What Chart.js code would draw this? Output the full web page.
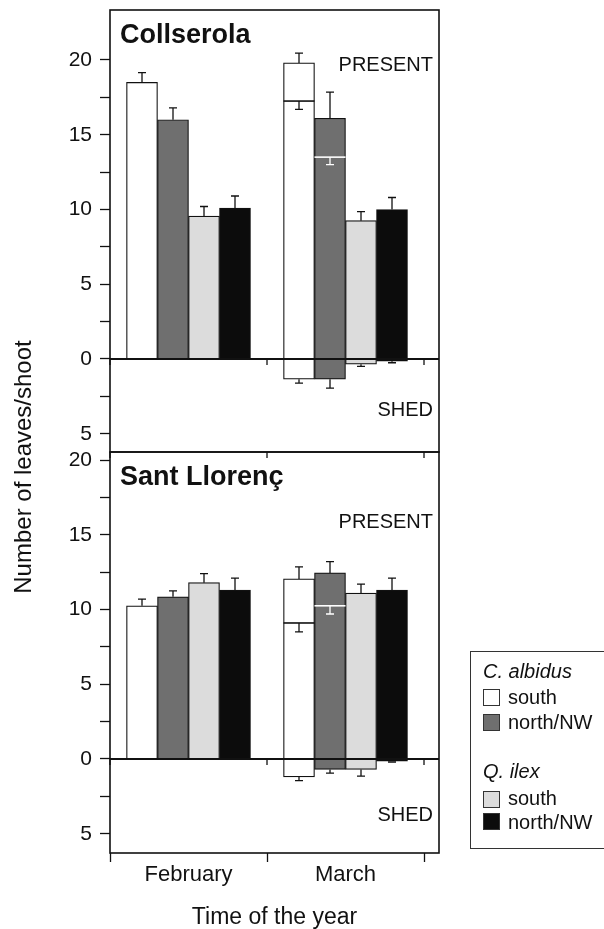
<!DOCTYPE html>
<html>
<head>
<meta charset="utf-8">
<script src="https://cdn.jsdelivr.net/npm/chart.js@4.4.0/dist/chart.umd.min.js"></script>
<style>
    body { margin: 0; background: #fff; width: 604px; height: 929px; position: relative; overflow: hidden;
           font-family: 'Liberation Sans', Arial, Helvetica, sans-serif; color: #111; }
    canvas { position: absolute; left: 0; top: 0; }
    #legend { position: absolute; left: 470px; top: 651px; width: 150px; height: 196px;
              border: 1.5px solid #333; border-right: none; font-size: 20px; line-height: 20px; }
    #legend div { position: absolute; white-space: nowrap; }
    #legend .sw { width: 15px; height: 15px; border: 1px solid #333; left: 12px; }
</style>
</head>
<body>
<canvas id="topPanel" width="604" height="929"></canvas>
<canvas id="bottomPanel" width="604" height="929"></canvas>

<div id="legend">
    <div style="left:12px;top:9px"><i>C. albidus</i></div>
    <div class="sw" style="top:37px;background:#ffffff"></div>
    <div style="left:37px;top:35px">south</div>
    <div class="sw" style="top:62px;background:#6f6f6f"></div>
    <div style="left:37px;top:60px">north/NW</div>
    <div style="left:12px;top:109px"><i>Q. ilex</i></div>
    <div class="sw" style="top:139px;background:#dcdcdc"></div>
    <div style="left:37px;top:136px">south</div>
    <div class="sw" style="top:161px;background:#0c0c0c"></div>
    <div style="left:37px;top:160px">north/NW</div>
</div>

<script>
const months = ['February', 'March'];
const seriesNames = ['C. albidus south', 'C. albidus north/NW', 'Q. ilex south', 'Q. ilex north/NW'];
const seriesColors = ['#ffffff', '#6f6f6f', '#dcdcdc', '#0c0c0c'];
const oldLineColors = ['#111111', '#ffffff', null, null];

const yTicks = [-5, -2.5, 0, 2.5, 5, 7.5, 10, 12.5, 15, 17.5, 20];
const xTicks = [-0.5, 0, 0.5, 1, 1.5];

// Collserola: leaves present (per series, Feb / March), error bar ends,
// leaves already present before (line inside the March bar), leaves shed
const colPresent    = [[18.5, 19.8], [16.0, 16.1], [9.55, 9.25], [10.1, 10.0]];
const colPresentErr = [[19.15, 20.45], [16.8, 17.85], [10.2, 9.85], [10.9, 10.8]];
const colOld        = [[null, 17.25], [null, 13.5], [null, null], [null, null]];
const colOldErr     = [[null, 16.7], [null, 13.0], [null, null], [null, null]];
const colShed       = [[null, -1.35], [null, -1.35], [null, -0.35], [null, -0.15]];
const colShedErr    = [[null, -1.62], [null, -1.95], [null, -0.5], [null, -0.25]];

// Sant Llorenç
const sllPresent    = [[10.25, 12.05], [10.85, 12.45], [11.8, 11.1], [11.3, 11.3]];
const sllPresentErr = [[10.7, 12.85], [11.25, 13.2], [12.4, 11.7], [12.1, 12.1]];
const sllOld        = [[null, 9.1], [null, 10.25], [null, null], [null, null]];
const sllOldErr     = [[null, 8.5], [null, 9.7], [null, null], [null, null]];
const sllShed       = [[null, -1.2], [null, -0.7], [null, -0.7], [null, -0.15]];
const sllShedErr    = [[null, -1.45], [null, -0.95], [null, -1.15], [null, -0.2]];

const FONT = "'Liberation Sans', Arial, Helvetica, sans-serif";
Chart.defaults.font.family = FONT;
Chart.defaults.color = '#111';

function buildDatasets(present, presentErr, old, oldErr, shed, shedErr) {
    const sets = [];
    seriesNames.forEach((name, s) => {
        sets.push({
            label: name,
            data: months.map((m, i) => ({ x: i, y: present[s][i] })),
            backgroundColor: seriesColors[s],
            stack: 's' + s,
            errTo: presentErr[s],
            oldLevel: old[s],
            oldErr: oldErr[s],
            oldColor: oldLineColors[s]
        });
        sets.push({
            label: name + ' shed',
            data: months.map((m, i) => ({ x: i, y: shed[s][i] })),
            backgroundColor: seriesColors[s],
            stack: 's' + s,
            errTo: shedErr[s]
        });
    });
    return sets;
}

function capLine(ctx, x, y0, y1) {
    ctx.beginPath();
    ctx.moveTo(x, y0);
    ctx.lineTo(x, y1);
    ctx.moveTo(x - 4, y1);
    ctx.lineTo(x + 4, y1);
    ctx.stroke();
}

function noPadding(s) {
    s.paddingTop = 0;
    s.paddingBottom = 0;
    s.paddingLeft = 0;
    s.paddingRight = 0;
}

const panelDecor = {
    id: 'panelDecor',
    afterDatasetsDraw(chart, args, opts) {
        const { ctx, chartArea } = chart;
        const yScale = chart.scales.y;
        const xScale = chart.scales.x;

        // error bars and the inner "before" lines
        chart.data.datasets.forEach((ds, di) => {
            const meta = chart.getDatasetMeta(di);
            meta.data.forEach((bar, i) => {
                if (ds.data[i].y == null) return;
                ctx.save();
                ctx.strokeStyle = '#111';
                ctx.lineWidth = 1.3;
                if (ds.errTo && ds.errTo[i] != null) {
                    capLine(ctx, bar.x, bar.y, yScale.getPixelForValue(ds.errTo[i]));
                }
                if (ds.oldLevel && ds.oldLevel[i] != null) {
                    const yy = yScale.getPixelForValue(ds.oldLevel[i]);
                    ctx.strokeStyle = ds.oldColor;
                    ctx.lineWidth = 1.6;
                    ctx.beginPath();
                    ctx.moveTo(bar.x - bar.width / 2, yy);
                    ctx.lineTo(bar.x + bar.width / 2, yy);
                    ctx.stroke();
                    ctx.lineWidth = 1.3;
                    capLine(ctx, bar.x, yy, yScale.getPixelForValue(ds.oldErr[i]));
                }
                ctx.restore();
            });
        });

        ctx.save();
        ctx.strokeStyle = '#111';

        // zero line
        const y0 = yScale.getPixelForValue(0);
        ctx.lineWidth = 2;
        ctx.beginPath();
        ctx.moveTo(chartArea.left, y0);
        ctx.lineTo(chartArea.right, y0);
        ctx.stroke();

        // frame
        ctx.lineWidth = 1.6;
        ctx.strokeRect(chartArea.left, chartArea.top, chartArea.right - chartArea.left, chartArea.bottom - chartArea.top);

        // category boundary ticks on the zero line (and top edge)
        ctx.lineWidth = 1.3;
        xTicks.filter(v => !Number.isInteger(v)).forEach(v => {
            const px = xScale.getPixelForValue(v);
            ctx.beginPath();
            ctx.moveTo(px, y0);
            ctx.lineTo(px, y0 + 6);
            if (opts.topTicks) {
                ctx.moveTo(px, chartArea.top);
                ctx.lineTo(px, chartArea.top + 6);
            }
            ctx.stroke();
        });

        // texts
        ctx.fillStyle = '#111';
        ctx.textBaseline = 'alphabetic';
        ctx.textAlign = 'left';
        ctx.font = `bold 27px ${FONT}`;
        ctx.fillText(opts.title, chartArea.left + 10, chartArea.top + 33);

        ctx.textAlign = 'right';
        ctx.font = `20px ${FONT}`;
        ctx.fillText('PRESENT', chartArea.right - 6, chartArea.top + opts.presentOffset);
        ctx.fillText('SHED', chartArea.right - 6, chartArea.bottom - opts.shedOffset);

        if (opts.yTitle) {
            ctx.translate(24, 467);
            ctx.rotate(-Math.PI / 2);
            ctx.textAlign = 'center';
            ctx.textBaseline = 'middle';
            ctx.font = `24px ${FONT}`;
            ctx.fillText(opts.yTitle, 0, 0);
        }
        ctx.restore();
    }
};

function yAxis(min, max) {
    return {
        type: 'linear',
        min,
        max,
        stacked: false,
        afterBuildTicks: s => { s.ticks = yTicks.map(v => ({ value: v })); },
        afterFit: s => { s.width = 110; noPadding(s); },
        border: { display: false },
        grid: { drawOnChartArea: false, drawTicks: true, tickLength: 10, tickWidth: 1.3, tickColor: '#111' },
        ticks: {
            padding: 8,
            color: '#111',
            font: { size: 21 },
            callback: v => (v % 5 === 0 ? String(Math.abs(v)) : '')
        }
    };
}

function xAxis(show) {
    return {
        type: 'linear',
        display: show,
        min: -0.5,
        max: 1.5955,
        offset: false,
        afterBuildTicks: s => { s.ticks = xTicks.map(v => ({ value: v })); },
        afterFit: s => { s.height = show ? 76 : 0; noPadding(s); },
        border: { display: false },
        grid: {
            offset: false,
            drawOnChartArea: false,
            tickLength: 9,
            tickWidth: 1.3,
            tickColor: c => (Number.isInteger(c.tick.value) ? 'rgba(0,0,0,0)' : '#111')
        },
        ticks: {
            autoSkip: false,
            maxRotation: 0,
            minRotation: 0,
            padding: 0,
            color: '#111',
            font: { size: 22 },
            callback: v => (Number.isInteger(v) ? months[v] : '')
        },
        title: { display: true, text: 'Time of the year', color: '#111', font: { size: 23, lineHeight: 1 }, padding: 0 }
    };
}

function makePanel(canvas, datasets, padding, yMin, yMax, showX, decor) {
    return new Chart(canvas, {
        type: 'bar',
        data: { datasets },
        plugins: [panelDecor],
        options: {
            responsive: false,
            animation: false,
            devicePixelRatio: 1,
            layout: { padding },
            datasets: { bar: { barThickness: 31, borderColor: '#111', borderWidth: 1.2 } },
            plugins: {
                legend: { display: false },
                tooltip: { enabled: false },
                panelDecor: decor
            },
            scales: {
                x: xAxis(showX),
                y: yAxis(yMin, yMax)
            }
        }
    });
}

makePanel(
    document.getElementById('topPanel'),
    buildDatasets(colPresent, colPresentErr, colOld, colOldErr, colShed, colShedErr),
    { top: 10, bottom: 477, left: 0, right: 165 },
    -6.22, 23.34, false,
    { title: 'Collserola', presentOffset: 61, shedOffset: 36, topTicks: false, yTitle: 'Number of leaves/shoot' }
);

makePanel(
    document.getElementById('bottomPanel'),
    buildDatasets(sllPresent, sllPresentErr, sllOld, sllOldErr, sllShed, sllShedErr),
    { top: 452, bottom: 0, left: 0, right: 165 },
    -6.29, 20.54, true,
    { title: 'Sant Llorenç', presentOffset: 76, shedOffset: 32, topTicks: true, yTitle: null }
);
</script>
</body>
</html>
